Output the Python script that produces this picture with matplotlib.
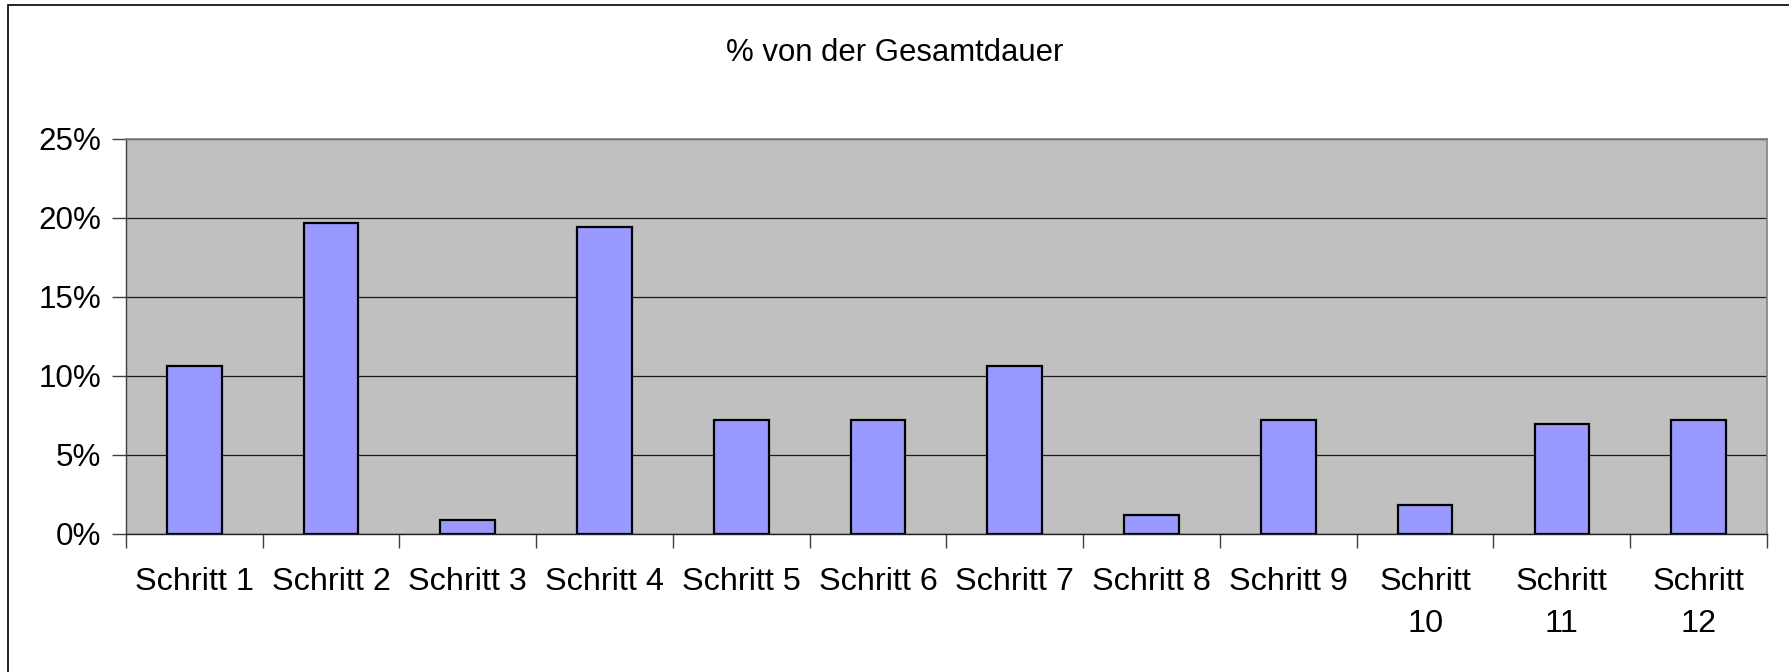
"""
plot.py - bar chart of each step's share of the total duration.

Writes out.png (1789x672).
"""

import matplotlib
matplotlib.use("Agg")  # no display in the sandbox
import matplotlib.pyplot as plt
from matplotlib.patches import Rectangle
from matplotlib.ticker import FixedLocator, FuncFormatter

plt.rcParams["font.family"] = ["Liberation Sans", "DejaVu Sans"]

TITLE = "% von der Gesamtdauer"
STEPS = ["Schritt 1", "Schritt 2", "Schritt 3", "Schritt 4", "Schritt 5",
         "Schritt 6", "Schritt 7", "Schritt 8", "Schritt 9",
         "Schritt\n10", "Schritt\n11", "Schritt\n12"]
# share of total duration, in percent
SHARE = [10.65, 19.7, 0.9, 19.45, 7.2, 7.2, 10.65, 1.2, 7.2, 1.85, 6.95, 7.2]
Y_TICKS = [0, 5, 10, 15, 20, 25]

BAR_COLOR = "#9999FF"
PLOT_BG = "#C0C0C0"


def main():
    fig = plt.figure(figsize=(17.89, 6.72), dpi=100)
    ax = fig.add_axes([0.0704, 0.2054, 0.9173, 0.5878])

    # outer chart frame: only left and top edge are inside the picture
    fig.patches.append(Rectangle((8 / 1789, -0.1), 1.2, 1.1 - 5 / 672,
                                 transform=fig.transFigure, fill=False,
                                 edgecolor="black", linewidth=1.2))

    ax.set_facecolor(PLOT_BG)
    x = range(len(STEPS))
    ax.bar(x, SHARE, width=0.4, color=BAR_COLOR, edgecolor="black",
           linewidth=1.6, zorder=3)

    ax.set_xlim(-0.5, len(STEPS) - 0.5)
    ax.set_ylim(0, 25)

    # horizontal gridlines
    ax.yaxis.set_major_locator(FixedLocator(Y_TICKS))
    ax.yaxis.set_major_formatter(FuncFormatter(lambda v, _: f"{v:.0f}%"))
    ax.grid(axis="y", color="#1a1a1a", linewidth=0.9, zorder=1)
    ax.set_axisbelow(True)

    # category labels in the middle, tick marks on the boundaries
    ax.set_xticks(list(x))
    ax.set_xticklabels(STEPS, multialignment="center", linespacing=1.53)
    ax.set_xticks([i - 0.5 for i in range(len(STEPS) + 1)], minor=True)
    ax.tick_params(axis="x", which="major", length=0, pad=23.5, labelsize=23.3)
    ax.tick_params(axis="x", which="minor", length=10, width=1.0,
                   color="#404040", direction="out")
    ax.tick_params(axis="y", length=10, width=1.0, color="#404040",
                   pad=8, labelsize=22.6)

    for side in ("top", "right"):
        ax.spines[side].set_color("#808080")
        ax.spines[side].set_linewidth(1.2)
    ax.spines["left"].set_color("#404040")
    ax.spines["bottom"].set_color("#202020")
    ax.spines["left"].set_linewidth(1.0)
    ax.spines["bottom"].set_linewidth(1.0)

    fig.text(0.5, 1 - 53 / 672, TITLE, ha="center", va="center", fontsize=22.4)

    fig.savefig("out.png", dpi=100, facecolor="white")
    plt.close(fig)


if __name__ == "__main__":
    main()
